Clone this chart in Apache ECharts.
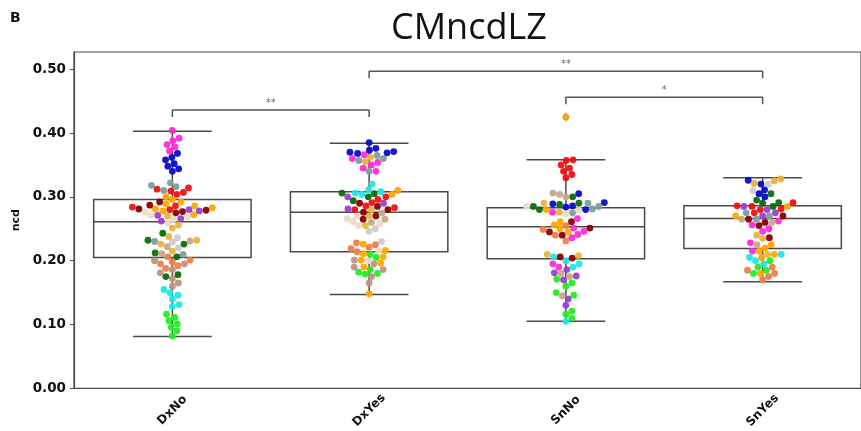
<!DOCTYPE html>
<html>
<head>
<meta charset="utf-8">
<script src="https://cdn.jsdelivr.net/npm/echarts@6/dist/echarts.min.js"></script>
<style>
  html, body { margin: 0; padding: 0; background: #fff; }
  #chart { width: 861px; height: 431px; }
</style>
</head>
<body>
<div id="chart"></div>
<script>
const categories = ['DxNo', 'DxYes', 'SnNo', 'SnYes'];
const yTicks = [0, 0.1, 0.2, 0.3, 0.4, 0.5];

// [whisker low, Q1, median, Q3, whisker high]
const boxStats = [
  [0.081, 0.205, 0.261, 0.296, 0.403],
  [0.147, 0.214, 0.276, 0.308, 0.384],
  [0.105, 0.203, 0.253, 0.283, 0.358],
  [0.167, 0.219, 0.266, 0.286, 0.330]
];
const outliers = [[2, 0.425]];

// [from, to, height, text]
const brackets = [
  [0, 1, 0.436, '**'],
  [1, 3, 0.497, '**'],
  [2, 3, 0.456, '*']
];

const palette = {
  magenta: '#ff2bd6', blue: '#0a0acc', teal: '#7f9d9d', red: '#ee1111',
  orange: '#ffa500', darkred: '#8b0000', tan: '#c8a888', wheat: '#eadcc6',
  lightgray: '#cccccc', purple: '#9b3fd0', darkgreen: '#0d6b0d', coral: '#ef7d4a',
  rosy: '#c09080', cyan: '#22e5e5', lime: '#22ee22', goldenrod: '#e8b440'
};

const dxNoPoints = [
  ['magenta', [0.404, 0.392, 0.388, 0.382, 0.378, 0.372]],
  ['blue', [0.368, 0.362, 0.358, 0.352, 0.348, 0.344, 0.340]],
  ['teal', [0.322, 0.318, 0.316, 0.310, 0.230, 0.210]],
  ['red', [0.314, 0.312, 0.309, 0.307, 0.304, 0.286, 0.284, 0.280]],
  ['orange', [0.300, 0.296, 0.292, 0.289, 0.286, 0.283, 0.281, 0.278, 0.272]],
  ['darkred', [0.292, 0.287, 0.281, 0.279, 0.277, 0.275]],
  ['purple', [0.280, 0.278, 0.271, 0.266, 0.262]],
  ['wheat', [0.276, 0.271, 0.268, 0.265, 0.259]],
  ['goldenrod', [0.270, 0.256, 0.251, 0.238, 0.232, 0.226, 0.215]],
  ['darkgreen', [0.243, 0.232, 0.226, 0.212, 0.206, 0.178, 0.175]],
  ['lightgray', [0.236, 0.229, 0.220]],
  ['tan', [0.231, 0.222, 0.211]],
  ['coral', [0.206, 0.201, 0.198, 0.195, 0.192, 0.188]],
  ['rosy', [0.200, 0.195, 0.186, 0.181, 0.172, 0.165, 0.160]],
  ['cyan', [0.155, 0.150, 0.146, 0.140, 0.131, 0.128]],
  ['lime', [0.116, 0.111, 0.106, 0.101, 0.096, 0.090, 0.082]]
];

const dxYesPoints = [
  ['blue', [0.385, 0.376, 0.373, 0.371, 0.370, 0.369, 0.368]],
  ['teal', [0.365, 0.360, 0.357, 0.340]],
  ['magenta', [0.366, 0.360, 0.354, 0.350, 0.345, 0.340]],
  ['goldenrod', [0.362, 0.355, 0.280, 0.270, 0.255]],
  ['cyan', [0.320, 0.311, 0.308, 0.306, 0.304]],
  ['darkgreen', [0.306, 0.305, 0.300, 0.294]],
  ['orange', [0.310, 0.304, 0.226, 0.216, 0.211, 0.206, 0.201, 0.196, 0.190, 0.148]],
  ['red', [0.300, 0.296, 0.291, 0.286, 0.283, 0.280]],
  ['darkred', [0.290, 0.285, 0.280, 0.276, 0.270, 0.265]],
  ['purple', [0.300, 0.290, 0.281]],
  ['wheat', [0.270, 0.266, 0.261, 0.258, 0.255, 0.215, 0.200]],
  ['tan', [0.275, 0.265, 0.260]],
  ['lightgray', [0.250, 0.246, 0.230]],
  ['coral', [0.228, 0.225, 0.221, 0.219, 0.214]],
  ['lime', [0.210, 0.205, 0.186, 0.182, 0.180, 0.179]],
  ['rosy', [0.201, 0.195, 0.190, 0.186, 0.175, 0.165]]
];

const snNoPoints = [
  ['orange', [0.425, 0.280, 0.261, 0.256, 0.250, 0.245]],
  ['red', [0.358, 0.357, 0.350, 0.345, 0.340, 0.335, 0.330]],
  ['tan', [0.306, 0.304, 0.300, 0.180, 0.175, 0.145]],
  ['blue', [0.305, 0.291, 0.289, 0.286, 0.284, 0.280]],
  ['darkgreen', [0.300, 0.290, 0.288, 0.285, 0.280]],
  ['goldenrod', [0.290, 0.276, 0.210, 0.208]],
  ['teal', [0.290, 0.285, 0.281, 0.275]],
  ['wheat', [0.285, 0.279, 0.273]],
  ['magenta', [0.276, 0.266, 0.251, 0.246, 0.241, 0.236, 0.195, 0.190]],
  ['darkred', [0.261, 0.251, 0.245, 0.240, 0.206, 0.204]],
  ['coral', [0.255, 0.249, 0.240, 0.231]],
  ['cyan', [0.206, 0.200, 0.195, 0.190, 0.105]],
  ['purple', [0.186, 0.181, 0.176, 0.170, 0.140, 0.130]],
  ['lime', [0.171, 0.165, 0.160, 0.150, 0.146, 0.121, 0.116, 0.110]]
];

const snYesPoints = [
  ['goldenrod', [0.328, 0.325, 0.321, 0.240, 0.235, 0.210]],
  ['blue', [0.326, 0.320, 0.311, 0.305, 0.300]],
  ['darkgreen', [0.305, 0.295, 0.291, 0.290, 0.285]],
  ['lightgray', [0.320, 0.310]],
  ['red', [0.291, 0.286, 0.285, 0.281, 0.280, 0.275]],
  ['purple', [0.285, 0.280, 0.275, 0.270]],
  ['teal', [0.275, 0.270, 0.265]],
  ['darkred', [0.270, 0.265, 0.260, 0.255, 0.236]],
  ['tan', [0.265, 0.260, 0.225]],
  ['orange', [0.285, 0.270, 0.225, 0.220, 0.215, 0.210, 0.205, 0.180]],
  ['magenta', [0.262, 0.256, 0.250, 0.246, 0.228, 0.215]],
  ['cyan', [0.210, 0.205, 0.200, 0.195]],
  ['lime', [0.200, 0.190, 0.185, 0.180]],
  ['coral', [0.190, 0.185, 0.180, 0.175, 0.170]]
];

const groupPoints = [dxNoPoints, dxYesPoints, snNoPoints, snYesPoints];

const DOT = 6.8;
const lineColor = '#4a4a4a';

let chart = echarts.init(document.getElementById('chart'));

function baseOption() {
  return {
    animation: false,
    backgroundColor: '#fff',
    title: {
      text: 'CMncdLZ',
      left: 386,
      top: 6,
      textStyle: { fontFamily: 'Open Sans', fontSize: 36, fontWeight: 'normal', color: '#111' }
    },
    graphic: [{
      type: 'text', left: 10, top: 11,
      style: { text: 'B', font: 'bold 14px "DejaVu Sans"', fill: '#111' }
    }],
    grid: {
      left: 74, right: -6, top: 52, bottom: 42,
      show: true, borderColor: lineColor, borderWidth: 1.2
    },
    xAxis: [{
      type: 'category',
      data: categories,
      axisLine: { lineStyle: { color: lineColor, width: 1.2 } },
      axisTick: { alignWithLabel: true, length: 4, lineStyle: { color: lineColor } },
      axisLabel: {
        rotate: 45, margin: 22, color: '#111',
        align: 'center', verticalAlign: 'middle',
        fontFamily: 'DejaVu Sans', fontWeight: 'bold', fontSize: 12
      },
      splitLine: { show: false }
    }, {
      type: 'value', min: 0, max: 4, show: false
    }],
    yAxis: {
      type: 'value',
      min: 0, max: 0.527,
      name: 'ncd',
      nameLocation: 'middle',
      nameRotate: 90,
      nameGap: 52,
      nameTextStyle: { fontFamily: 'DejaVu Sans', fontWeight: 'bold', fontSize: 11, color: '#111' },
      axisLine: { show: true, lineStyle: { color: lineColor, width: 1.2 } },
      axisTick: { show: true, length: 4, customValues: yTicks, lineStyle: { color: lineColor } },
      axisLabel: {
        customValues: yTicks, margin: 8, color: '#111',
        fontFamily: 'DejaVu Sans', fontWeight: 'bold', fontSize: 13.5,
        formatter: v => v.toFixed(2)
      },
      splitLine: { show: false }
    },
    series: []
  };
}

function boxSeries() {
  return {
    type: 'custom',
    xAxisIndex: 0,
    z: 2,
    data: boxStats.map((s, i) => [i].concat(s)),
    encode: { x: 0, y: [1, 2, 3, 4, 5] },
    renderItem: function (params, api) {
      const i = api.value(0);
      const band = api.size([1, 0])[0];
      const hw = band * 0.4, cw = band * 0.2;
      const pLo = api.coord([i, api.value(1)]);
      const pQ1 = api.coord([i, api.value(2)]);
      const pMed = api.coord([i, api.value(3)]);
      const pQ3 = api.coord([i, api.value(4)]);
      const pHi = api.coord([i, api.value(5)]);
      const x = pMed[0];
      const st = { stroke: lineColor, lineWidth: 1.5, fill: 'none' };
      return {
        type: 'group',
        children: [
          { type: 'line', shape: { x1: x, y1: pQ3[1], x2: x, y2: pHi[1] }, style: st },
          { type: 'line', shape: { x1: x, y1: pQ1[1], x2: x, y2: pLo[1] }, style: st },
          { type: 'line', shape: { x1: x - cw, y1: pHi[1], x2: x + cw, y2: pHi[1] }, style: st },
          { type: 'line', shape: { x1: x - cw, y1: pLo[1], x2: x + cw, y2: pLo[1] }, style: st },
          { type: 'rect', shape: { x: x - hw, y: pQ3[1], width: hw * 2, height: pQ1[1] - pQ3[1] }, style: st },
          { type: 'line', shape: { x1: x - hw, y1: pMed[1], x2: x + hw, y2: pMed[1] }, style: st }
        ]
      };
    }
  };
}

function bracketSeries() {
  const out = [];
  brackets.forEach(b => {
    const a = b[0] + 0.5, c = b[1] + 0.5, h = b[2], t = 0.011;
    out.push({
      type: 'line', xAxisIndex: 1, symbol: 'none', silent: true, z: 3,
      lineStyle: { color: '#555', width: 1.5 },
      data: [[a, h - t], [a, h], [c, h], [c, h - t]]
    });
    out.push({
      type: 'scatter', xAxisIndex: 1, symbolSize: 0, silent: true, z: 3,
      data: [[(a + c) / 2, h]],
      label: {
        show: true, position: 'top', distance: 2, formatter: b[3],
        color: '#444', fontSize: 10, fontFamily: 'DejaVu Sans'
      }
    });
  });
  return out;
}

// beeswarm layout in pixel space, returned as offsets in x-value units
function swarm(points, pxPerY, pxPerX) {
  const flat = [];
  points.forEach(([c, vals]) => vals.forEach(v => flat.push({ v, c })));
  flat.sort((p, q) => p.v - q.v);
  const placed = [];
  flat.forEach(p => {
    const y = p.v * pxPerY;
    const near = placed.filter(q => Math.abs(q.y - y) < DOT);
    const cands = [0];
    near.forEach(q => {
      const dx = Math.sqrt(DOT * DOT - (q.y - y) * (q.y - y));
      cands.push(q.x + dx, q.x - dx);
    });
    cands.sort((a, b) => Math.abs(a) - Math.abs(b));
    let xPos = 0;
    for (const cx of cands) {
      if (near.every(q => (q.x - cx) ** 2 + (q.y - y) ** 2 >= DOT * DOT - 0.01)) { xPos = cx; break; }
    }
    placed.push({ x: xPos, y, v: p.v, c: p.c });
  });
  return placed.map(p => ({ off: p.x / pxPerX, v: p.v, c: p.c }));
}

const opt = baseOption();
opt.series = [boxSeries()].concat(bracketSeries());
chart.setOption(opt);

const pxPerY = chart.convertToPixel({ yAxisIndex: 0 }, 0) - chart.convertToPixel({ yAxisIndex: 0 }, 1);
const pxPerX = chart.convertToPixel({ xAxisIndex: 1 }, 1) - chart.convertToPixel({ xAxisIndex: 1 }, 0);

const dots = [];
groupPoints.forEach((pts, gi) => {
  swarm(pts, pxPerY, pxPerX).forEach(p => {
    dots.push({ value: [gi + 0.5 + p.off, p.v], itemStyle: { color: palette[p.c] } });
  });
});

opt.series.push({
  type: 'scatter', xAxisIndex: 1, z: 4, symbolSize: DOT, silent: true,
  itemStyle: { opacity: 0.95 },
  data: dots
});
opt.series.push({
  type: 'scatter', xAxisIndex: 1, z: 5, symbol: 'diamond', symbolSize: [6, 9], silent: true,
  itemStyle: { color: '#e8a838', borderColor: '#b88a30', borderWidth: 0.5 },
  data: outliers.map(o => [o[0] + 0.5, o[1]])
});
chart.setOption(opt, true);
</script>
</body>
</html>
